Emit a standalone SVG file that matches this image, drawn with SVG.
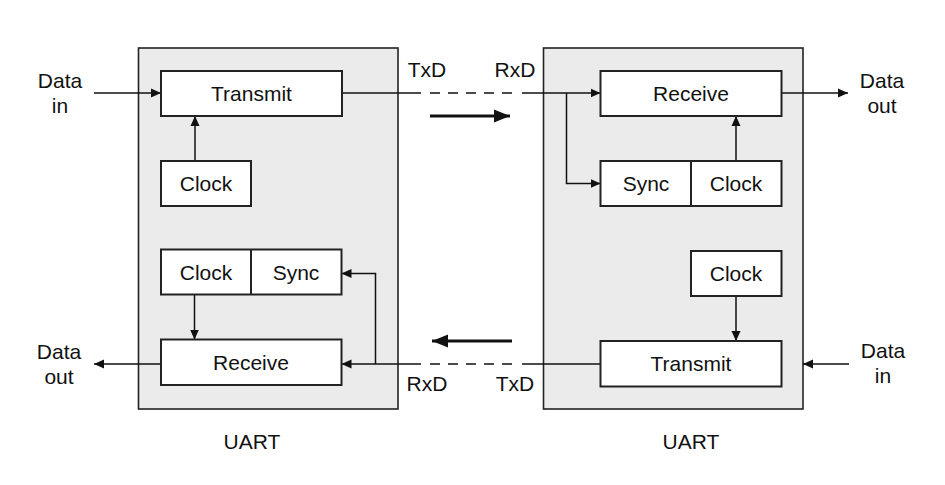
<svg xmlns="http://www.w3.org/2000/svg" width="945" height="485" viewBox="0 0 945 485">
<defs>
<marker id="ah" markerUnits="userSpaceOnUse" markerWidth="10" markerHeight="10" viewBox="0 0 10 10" refX="10" refY="5" orient="auto"><path d="M0,0.5 L10,5 L0,9.5 z" fill="#111"/></marker>
<marker id="big" markerUnits="userSpaceOnUse" markerWidth="16" markerHeight="14" viewBox="0 0 16 14" refX="16" refY="7" orient="auto"><path d="M0,0.5 L16,7 L0,13.5 z" fill="#111"/></marker>
</defs>
<style>
.uart{fill:#ebebeb;stroke:#222;stroke-width:1.6}
.box{fill:#fff;stroke:#222;stroke-width:2}
.w{fill:none;stroke:#111;stroke-width:1.5}
.a{marker-end:url(#ah)}
.d{stroke-dasharray:10 8}
.thick{fill:none;stroke:#111;stroke-width:3;marker-end:url(#big)}
text{font-family:"Liberation Sans",Arial,sans-serif;font-size:21px;fill:#111;text-anchor:middle}
</style>
<rect width="945" height="485" fill="#fff"/>
<g id="uart-left"><rect class="uart" x="138.5" y="48" width="259.5" height="361"/></g>
<g id="uart-right"><rect class="uart" x="543.5" y="48" width="259.5" height="361"/></g>

<g id="connectors">
<line class="w a" x1="94" y1="93" x2="161" y2="93"/>
<line class="w a" x1="195" y1="161" x2="195" y2="116"/>
<line class="w" x1="342" y1="93" x2="421" y2="93"/>
<line class="w d" x1="430" y1="93" x2="512" y2="93"/>
<line class="w a" x1="522" y1="93" x2="600.5" y2="93"/>
<polyline class="w a" points="566.5,93 566.5,183.5 600.5,183.5"/>
<line class="w a" x1="736" y1="161" x2="736" y2="116"/>
<line class="w a" x1="781.5" y1="93" x2="848" y2="93"/>
<line class="thick" x1="430" y1="116" x2="510" y2="116"/>
<line class="thick" x1="512" y1="341" x2="432" y2="341"/>
<line class="w a" x1="736" y1="296" x2="736" y2="341"/>
<line class="w a" x1="849" y1="364" x2="803" y2="364"/>
<line class="w" x1="600.5" y1="364" x2="522" y2="364"/>
<line class="w d" x1="512" y1="364" x2="430" y2="364"/>
<line class="w a" x1="421" y1="364" x2="341.5" y2="364"/>
<polyline class="w a" points="375.5,364 375.5,273.5 341.5,273.5"/>
<line class="w a" x1="194.5" y1="294.5" x2="194.5" y2="339.5"/>
<line class="w a" x1="161" y1="364" x2="94" y2="364"/>
</g>

<g id="l-transmit"><rect class="box" x="161" y="71" width="181" height="45"/><text x="251.5" y="101">Transmit</text></g>
<g id="l-clock1"><rect class="box" x="161" y="161" width="90" height="45"/><text x="206" y="191">Clock</text></g>
<g id="l-clocksync"><rect class="box" x="161" y="249.5" width="180.5" height="45"/><line class="box" x1="251" y1="249.5" x2="251" y2="294.5"/><text x="206" y="279.5">Clock</text><text x="296" y="279.5">Sync</text></g>
<g id="l-receive"><rect class="box" x="161" y="339.5" width="180.5" height="45.5"/><text x="251" y="369.5">Receive</text></g>

<g id="r-receive"><rect class="box" x="600.5" y="71" width="181" height="45"/><text x="691" y="101">Receive</text></g>
<g id="r-syncclock"><rect class="box" x="600.5" y="161" width="181" height="45"/><line class="box" x1="691" y1="161" x2="691" y2="206"/><text x="646" y="191">Sync</text><text x="736" y="191">Clock</text></g>
<g id="r-clock2"><rect class="box" x="691" y="251" width="90.5" height="45"/><text x="736" y="281">Clock</text></g>
<g id="r-transmit"><rect class="box" x="600.5" y="341" width="181" height="45.5"/><text x="691" y="371">Transmit</text></g>

<g id="labels">
<text x="60" y="88">Data</text><text x="60" y="113">in</text>
<text x="882" y="88">Data</text><text x="882" y="113">out</text>
<text x="59" y="359">Data</text><text x="59" y="384">out</text>
<text x="883" y="358">Data</text><text x="883" y="383">in</text>
<text x="427" y="77">TxD</text><text x="515" y="77">RxD</text>
<text x="427" y="391">RxD</text><text x="515" y="391">TxD</text>
<text x="252" y="449">UART</text><text x="691" y="449">UART</text>
</g>
</svg>
